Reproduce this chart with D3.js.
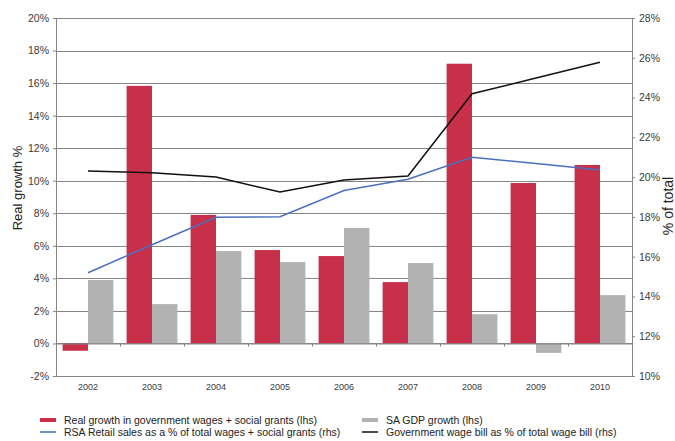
<!DOCTYPE html>
<meta charset="utf-8">
<script src="https://d3js.org/d3.v7.min.js"></script>
<style>
  body { margin: 0; background: #fff; }
  text { font-family: "Liberation Sans", Arial, sans-serif; }
</style>
<div id="my_dataviz"></div>
<script>
  // categories and series
  var years = ["2002", "2003", "2004", "2005", "2006", "2007", "2008", "2009", "2010"];
  var wagesGrants = [-0.45, 15.83, 7.9, 5.74, 5.37, 3.77, 17.19, 9.86, 10.97];
  var gdpGrowth = [3.9, 2.42, 5.68, 5.0, 7.1, 4.94, 1.8, -0.58, 2.97];
  var retailShare = [15.19, 16.6, 17.98, 18.01, 19.33, 19.89, 21.0, 20.69, 20.36];
  var wageBill = [20.31, 20.22, 20.0, 19.25, 19.86, 20.06, 24.19, 24.98, 25.77];
  var leftTicks = [-2, 0, 2, 4, 6, 8, 10, 12, 14, 16, 18, 20];
  var rightTicks = [10, 12, 14, 16, 18, 20, 22, 24, 26, 28];

  var margin = { top: 18, right: 43, bottom: 65, left: 56 },
    width = 675 - margin.left - margin.right,
    height = 441 - margin.top - margin.bottom;

  var svg = d3.select("#my_dataviz").append("svg")
    .attr("width", 675).attr("height", 441)
    .append("g")
    .attr("transform", "translate(" + margin.left + "," + margin.top + ")");

  var x = d3.scaleBand().domain(years).range([0, width]).padding(0);
  var xs = d3.scaleBand().domain(["wg", "gdp"]).range([0, x.bandwidth()]).paddingInner(0).paddingOuter(0.26);
  var yL = d3.scaleLinear().domain([-2, 20]).range([height, 0]);
  var yR = d3.scaleLinear().domain([10, 28]).range([height, 0]);

  var gridColor = "#858585";
  var labelColor = "#3a3a3a";

  // gridlines
  svg.append("g").selectAll("line").data(leftTicks).enter().append("line")
    .attr("x1", 0).attr("x2", width)
    .attr("y1", function(d) { return Math.round(yL(d)) + 0.5; })
    .attr("y2", function(d) { return Math.round(yL(d)) + 0.5; })
    .attr("stroke", gridColor).attr("stroke-width", 1);

  // left axis
  var yAxisL = svg.append("g")
    .call(d3.axisLeft(yL).tickValues(leftTicks).tickSize(3).tickPadding(4).tickFormat(function(d) { return d + "%"; }));
  // right axis
  var yAxisR = svg.append("g").attr("transform", "translate(" + width + ",0)")
    .call(d3.axisRight(yR).tickValues(rightTicks).tickSize(3).tickPadding(4).tickFormat(function(d) { return d + "%"; }));
  [yAxisL, yAxisR].forEach(function(a) {
    a.select(".domain").attr("stroke", gridColor);
    a.selectAll(".tick line").attr("stroke", gridColor);
    a.selectAll(".tick text").attr("fill", labelColor).style("font-size", "10.5px");
  });

  // bars
  var groups = svg.append("g").selectAll("g").data(years).enter().append("g")
    .attr("transform", function(d) { return "translate(" + x(d) + ",0)"; });
  groups.append("rect")
    .attr("x", xs("wg")).attr("width", xs.bandwidth())
    .attr("y", function(d, i) { return yL(Math.max(0, wagesGrants[i])); })
    .attr("height", function(d, i) { return Math.abs(yL(wagesGrants[i]) - yL(0)); })
    .attr("fill", "#c8304a");
  groups.append("rect")
    .attr("x", xs("gdp")).attr("width", xs.bandwidth())
    .attr("y", function(d, i) { return yL(Math.max(0, gdpGrowth[i])); })
    .attr("height", function(d, i) { return Math.abs(yL(gdpGrowth[i]) - yL(0)); })
    .attr("fill", "#b2b2b2");

  // zero axis with category ticks
  var xAxis = svg.append("g").attr("transform", "translate(0," + (Math.round(yL(0)) + 0.5) + ")")
    .call(d3.axisBottom(x).tickSize(0).tickFormat(""));
  xAxis.select(".domain").attr("stroke", gridColor);
  xAxis.selectAll(".sep").data(years.slice(1)).enter().append("line")
    .attr("x1", function(d) { return x(d) + 0.5; }).attr("x2", function(d) { return x(d) + 0.5; })
    .attr("y1", 0).attr("y2", 3).attr("stroke", gridColor);

  // bottom frame line
  svg.append("line").attr("x1", 0).attr("x2", width)
    .attr("y1", height + 0.5).attr("y2", height + 0.5).attr("stroke", gridColor);

  // year labels
  svg.append("g").selectAll("text").data(years).enter().append("text")
    .attr("x", function(d) { return x(d) + x.bandwidth() / 2; })
    .attr("y", height + 14)
    .attr("text-anchor", "middle")
    .attr("fill", labelColor)
    .style("font-size", "9px")
    .text(function(d) { return d; });

  // lines
  var line = function(vals) {
    return d3.line()
      .x(function(d, i) { return x(years[i]) + x.bandwidth() / 2; })
      .y(function(d) { return yR(d); })(vals);
  };
  svg.append("path").attr("d", line(retailShare)).attr("fill", "none")
    .attr("stroke", "#4a6fbf").attr("stroke-width", 1.5);
  svg.append("path").attr("d", line(wageBill)).attr("fill", "none")
    .attr("stroke", "#111").attr("stroke-width", 1.5);

  // axis titles
  svg.append("text")
    .attr("transform", "translate(" + (17 - margin.left) + "," + (188 - margin.top) + ") rotate(-90)")
    .attr("text-anchor", "middle").attr("dy", "0.35em")
    .attr("fill", "#222").style("font-size", "13px")
    .text("Real growth %");
  svg.append("text")
    .attr("transform", "translate(" + (673 - margin.left) + "," + (206 - margin.top) + ") rotate(-90)")
    .attr("text-anchor", "middle")
    .attr("fill", "#222").style("font-size", "14px")
    .text("% of total");

  // legend
  var legend = d3.select("svg").append("g");
  var items = [
    { label: "Real growth in government wages + social grants (lhs)", color: "#c8304a", type: "rect", x: 40, y: 420 },
    { label: "SA GDP growth (lhs)", color: "#b2b2b2", type: "rect", x: 362, y: 420 },
    { label: "RSA Retail sales as a % of total wages + social grants (rhs)", color: "#4a6fbf", type: "line", x: 40, y: 432 },
    { label: "Government wage bill as % of total wage bill (rhs)", color: "#111", type: "line", x: 362, y: 432 }
  ];
  items.forEach(function(it) {
    if (it.type === "rect") {
      legend.append("rect").attr("x", it.x).attr("y", it.y - 2).attr("width", 16).attr("height", 4).attr("fill", it.color);
    } else {
      legend.append("line").attr("x1", it.x).attr("x2", it.x + 16).attr("y1", it.y).attr("y2", it.y)
        .attr("stroke", it.color).attr("stroke-width", 1.5);
    }
    legend.append("text").attr("x", it.x + 24).attr("y", it.y).attr("dy", "0.35em")
      .attr("fill", "#222").style("font-size", "10.5px").text(it.label);
  });
</script>
